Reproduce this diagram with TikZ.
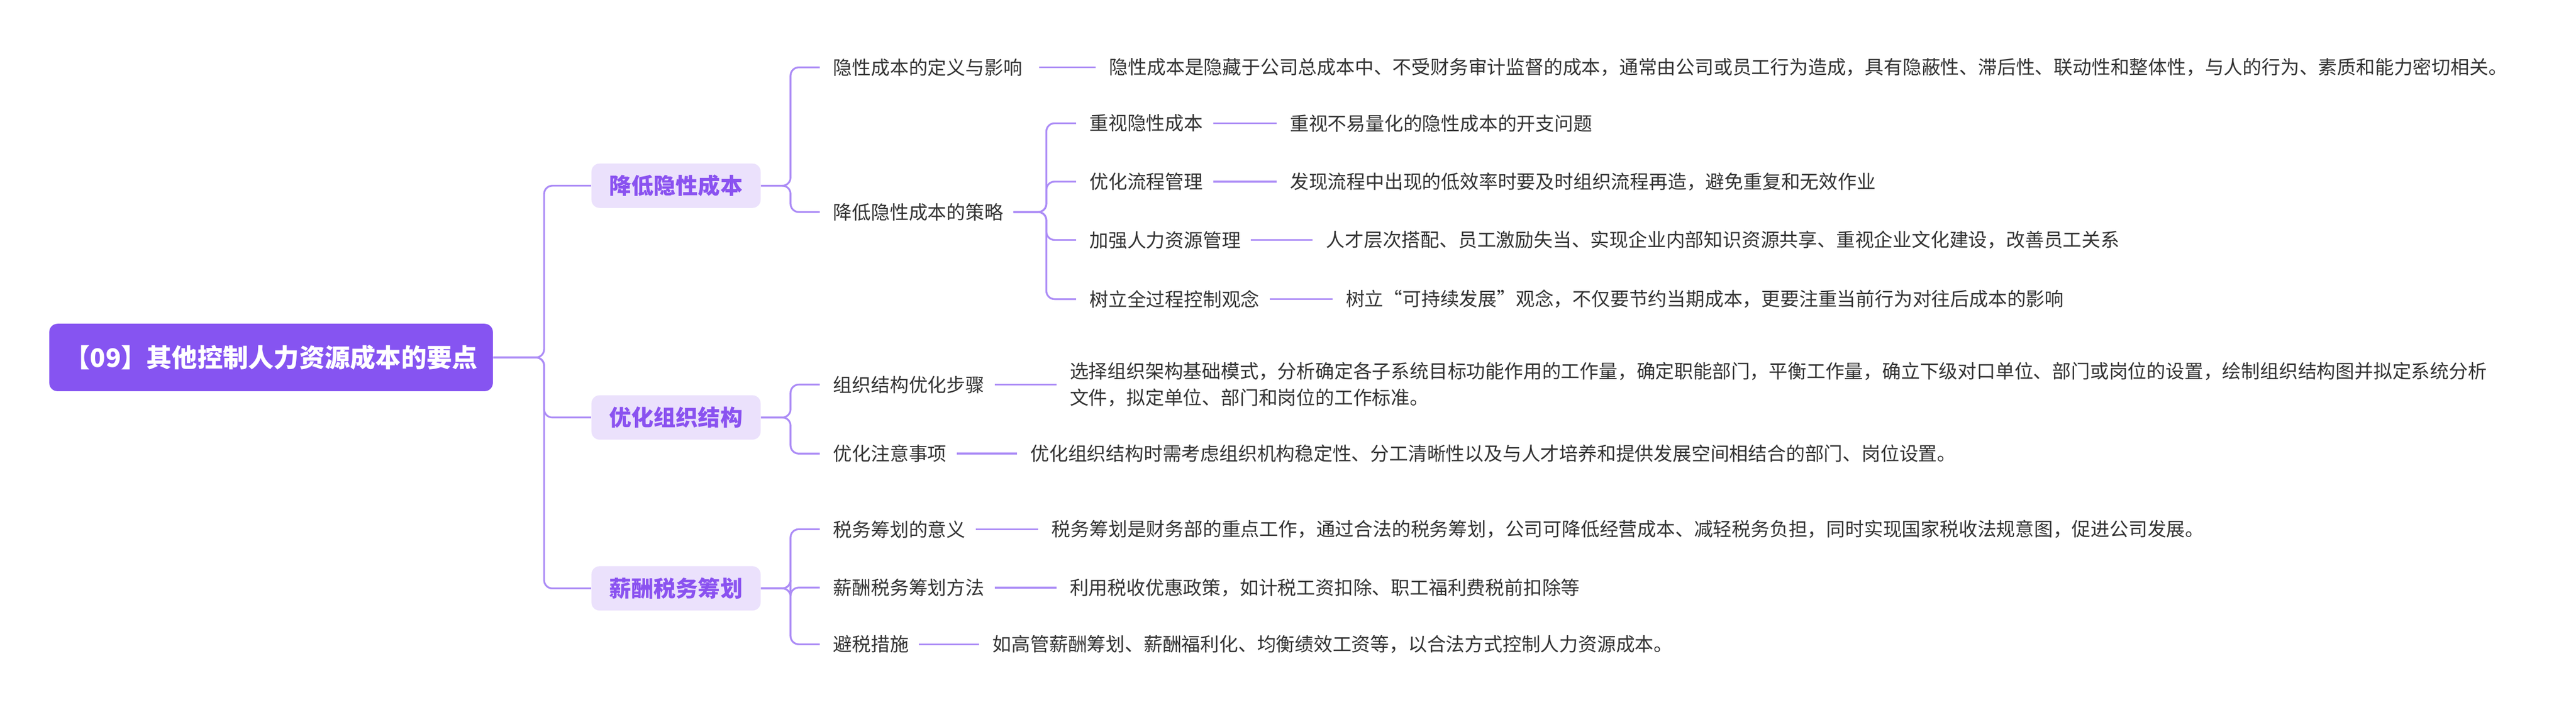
\documentclass[tikz,border=0pt]{standalone}
\usepackage{fontspec}
\setmainfont{Noto Sans CJK SC}
\definecolor{rootc}{HTML}{8654F1}
\definecolor{l1fill}{HTML}{EBE1FC}
\definecolor{l1text}{HTML}{8A52F0}
\definecolor{linec}{HTML}{AC8CF6}
\definecolor{txt}{HTML}{333333}
\begin{document}
\begin{tikzpicture}[x=1pt,y=-1pt,
  rootbox/.style={fill=rootc,rounded corners=5pt,text=white,font=\fontsize{15.5}{18}\selectfont\bfseries,minimum width=270pt,minimum height=41pt,inner sep=0pt},
  lonebox/.style={fill=l1fill,rounded corners=5pt,text=l1text,font=\fontsize{13.5}{16}\selectfont\bfseries,minimum width=103pt,minimum height=27pt,inner sep=0pt},
  leaf/.style={anchor=west,inner sep=0pt,text=txt,font=\fontsize{11.5}{16}\selectfont,align=left},
  conn/.style={draw=linec,line width=1.1pt,rounded corners=5pt},
  joinln/.style={conn,shorten <=6pt,shorten >=8pt}]
\useasboundingbox (0,0) rectangle (1568,436);
\node[rootbox] (root) at (165,217.5) {【09】其他控制人力资源成本的要点};
\node[lonebox] (a) at (411.5,113) {降低隐性成本};
\node[lonebox] (b) at (411.5,254) {优化组织结构};
\node[lonebox] (c) at (411.5,358) {薪酬税务筹划};
\foreach \n in {a,b,c}{\draw[conn] (root.east) -- ++(31,0) |- (\n.west);}
% A
\node[leaf] (a1) at (507,41) {隐性成本的定义与影响};
\node[leaf] (a1d) at (675,41) {隐性成本是隐藏于公司总成本中、不受财务审计监督的成本，通常由公司或员工行为造成，具有隐蔽性、滞后性、联动性和整体性，与人的行为、素质和能力密切相关。};
\node[leaf] (a2) at (507,129) {降低隐性成本的策略};
\foreach \n in {a1,a2}{\draw[conn,shorten >=8pt] (a.east) -- ++(18,0) |- (\n.west);}
\draw[joinln,shorten <=10pt] (a1.east) -- (a1d.west);
\node[leaf] (s1) at (663,75) {重视隐性成本};
\node[leaf] (s1d) at (785,75) {重视不易量化的隐性成本的开支问题};
\node[leaf] (s2) at (663,110.5) {优化流程管理};
\node[leaf] (s2d) at (785,110.5) {发现流程中出现的低效率时要及时组织流程再造，避免重复和无效作业};
\node[leaf] (s3) at (663,146) {加强人力资源管理};
\node[leaf] (s3d) at (807,146) {人才层次搭配、员工激励失当、实现企业内部知识资源共享、重视企业文化建设，改善员工关系};
\node[leaf] (s4) at (663,182) {树立全过程控制观念};
\node[leaf] (s4d) at (819,182) {树立“可持续发展”观念，不仅要节约当期成本，更要注重当前行为对往后成本的影响};
\foreach \n in {s1,s2,s3,s4}{\draw[conn,shorten >=8pt] (a2.east) ++(6,0) -- ++(20,0) |- (\n.west);}
\foreach \n in {s1,s2,s3,s4}{\draw[joinln] (\n.east) -- (\n d.west);}
% B
\node[leaf] (b1) at (507,234) {组织结构优化步骤};
\node[leaf] (b1d) at (651,234) {选择组织架构基础模式，分析确定各子系统目标功能作用的工作量，确定职能部门，平衡工作量，确立下级对口单位、部门或岗位的设置，绘制组织结构图并拟定系统分析\\文件，拟定单位、部门和岗位的工作标准。};
\node[leaf] (b2) at (507,276) {优化注意事项};
\node[leaf] (b2d) at (627,276) {优化组织结构时需考虑组织机构稳定性、分工清晰性以及与人才培养和提供发展空间相结合的部门、岗位设置。};
\foreach \n in {b1,b2}{\draw[conn,shorten >=8pt] (b.east) -- ++(18,0) |- (\n.west);}
\draw[joinln] (b1.east) -- (b1.east -| b1d.west);
\draw[joinln] (b2.east) -- (b2d.west);
% C
\node[leaf] (c1) at (507,322) {税务筹划的意义};
\node[leaf] (c1d) at (640,322) {税务筹划是财务部的重点工作，通过合法的税务筹划，公司可降低经营成本、减轻税务负担，同时实现国家税收法规意图，促进公司发展。};
\node[leaf] (c2) at (507,357.5) {薪酬税务筹划方法};
\node[leaf] (c2d) at (651,357.5) {利用税收优惠政策，如计税工资扣除、职工福利费税前扣除等};
\node[leaf] (c3) at (507,392) {避税措施};
\node[leaf] (c3d) at (604,392) {如高管薪酬筹划、薪酬福利化、均衡绩效工资等，以合法方式控制人力资源成本。};
\foreach \n in {c1,c2,c3}{\draw[conn,shorten >=8pt] (c.east) -- ++(18,0) |- (\n.west);}
\foreach \n in {c1,c2,c3}{\draw[joinln] (\n.east) -- (\n d.west);}
\end{tikzpicture}
\end{document}
